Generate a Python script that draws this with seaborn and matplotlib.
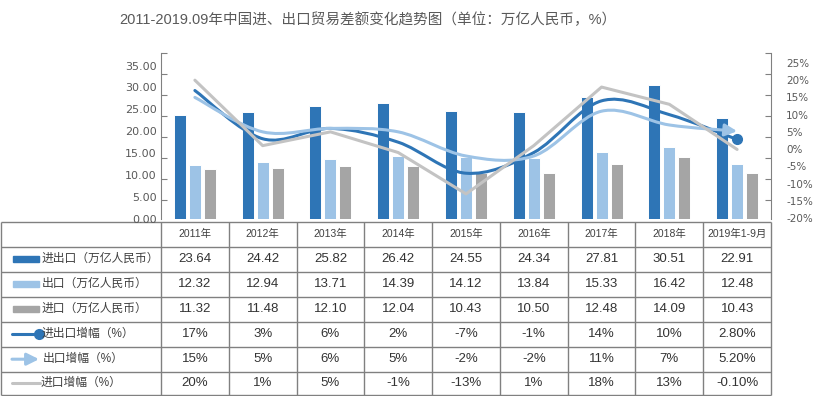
import numpy as np
import pandas as pd
import matplotlib
matplotlib.use('Agg')
import matplotlib.pyplot as plt
from matplotlib.path import Path
from matplotlib.patches import PathPatch, FancyArrowPatch, Rectangle
import seaborn as sns

# data
years = ['2011年', '2012年', '2013年', '2014年', '2015年', '2016年', '2017年', '2018年', '2019年1-9月']
total = [23.64, 24.42, 25.82, 26.42, 24.55, 24.34, 27.81, 30.51, 22.91]
exports = [12.32, 12.94, 13.71, 14.39, 14.12, 13.84, 15.33, 16.42, 12.48]
imports = [11.32, 11.48, 12.10, 12.04, 10.43, 10.50, 12.48, 14.09, 10.43]
total_growth = [17, 3, 6, 2, -7, -1, 14, 10, 2.8]
export_growth = [15, 5, 6, 5, -2, -2, 11, 7, 5.2]
import_growth = [20, 1, 5, -1, -13, 1, 18, 13, -0.1]
bar_names = ['进出口（万亿人民币）', '出口（万亿人民币）', '进口（万亿人民币）']
line_names = ['进出口增幅（%）', '出口增幅（%）', '进口增幅（%）']
left_ticks = [0, 5, 10, 15, 20, 25, 30, 35]
right_ticks = [-20, -15, -10, -5, 0, 5, 10, 15, 20, 25]

DARK = '#2E75B6'
LIGHT = '#9DC3E6'
GREY = '#A5A5A5'
LGREY = '#C3C3C3'
AXC = '#808080'
TXT = '#404040'

sns.set_theme(style='white')
plt.rcParams['font.family'] = ['Liberation Sans', 'Noto Sans CJK SC', 'DejaVu Sans']

W, H = 813, 396
fig = plt.figure(figsize=(W / 100, H / 100), dpi=100)

# chart area (pixel layout of the reference)
x0, x1, ytop, ybot = 161, 771, 53.3, 218.7
ax = fig.add_axes([x0 / W, 1 - ybot / H, (x1 - x0) / W, (ybot - ytop) / H])

df = pd.DataFrame({
    'year': years * 3,
    'value': total + exports + imports,
    'series': [n for n in bar_names for _ in years],
})
sns.barplot(data=df, x='year', y='value', hue='series', hue_order=bar_names,
            palette=[DARK, LIGHT, GREY], saturation=1, width=0.663, gap=0.2,
            edgecolor='white', linewidth=0.7, legend=False, ax=ax)
ax.set_xlim(-0.5, len(years) - 0.5)
ax.set_ylim(0, 37.8)
ax.set_xticks([])
ax.set_xlabel('')
ax.set_ylabel('')
ax.set_yticks(left_ticks)
ax.set_yticklabels(['%.2f' % v for v in left_ticks], family='DejaVu Sans')

# tick marks sit between labels in the reference
frac = np.array([1 - k * 0.127 for k in range(8)])
ax.set_yticks(frac * 37.8, minor=True)
ax.tick_params(axis='y', which='major', length=0, pad=3, labelsize=8, labelcolor='#595959')
ax.tick_params(axis='y', which='minor', direction='in', length=4, width=0.8, color=AXC, left=True)
for s in ['top', 'right', 'bottom']:
    ax.spines[s].set_visible(False)
ax.spines['left'].set_color(AXC)
ax.spines['left'].set_linewidth(0.8)

ax2 = ax.twinx()
ax2.set_ylim(-20.2, 27.8)
ax2.set_yticks(right_ticks)
ax2.set_yticklabels(['%d%%' % v for v in right_ticks], family='DejaVu Sans')
ax2.set_yticks(-20.2 + frac * 48, minor=True)
ax2.tick_params(axis='y', which='major', length=0, pad=11, labelsize=7.5, labelcolor='#595959')
ax2.tick_params(axis='y', which='minor', direction='in', length=4, width=0.8, color=AXC, right=True)
for s in ['top', 'left', 'bottom']:
    ax2.spines[s].set_visible(False)
ax2.spines['right'].set_color(AXC)
ax2.spines['right'].set_linewidth(0.8)

xs = np.arange(len(years))


def smooth_path(y):
    # Catmull-Rom style bezier through the data points (like Excel smoothed lines)
    pts = np.column_stack([xs, y]).astype(float)
    verts = [pts[0]]
    codes = [Path.MOVETO]
    n = len(pts)
    for i in range(n - 1):
        p0 = pts[max(i - 1, 0)]
        p1 = pts[i]
        p2 = pts[i + 1]
        p3 = pts[min(i + 2, n - 1)]
        verts += [p1 + (p2 - p0) / 6, p2 - (p3 - p1) / 6, p2]
        codes += [Path.CURVE4] * 3
    return Path(verts, codes)


ARROW = '-|>,head_length=0.8,head_width=0.4'

ax2.add_patch(PathPatch(smooth_path(total_growth), fill=False, edgecolor=DARK,
                        lw=2.2, capstyle='round', zorder=3))
ax2.plot(xs[-1], total_growth[-1], 'o', color=DARK, ms=7, zorder=4)
ax2.add_patch(FancyArrowPatch(path=smooth_path(export_growth), arrowstyle=ARROW,
                              mutation_scale=9, color=LIGHT, lw=2.2, zorder=3))
sns.lineplot(x=xs, y=import_growth, color=LGREY, lw=2.2, ax=ax2, zorder=3)
ax2.set_xlim(-0.5, len(years) - 0.5)
ax2.set_ylabel('')

fig.text(368 / W, 1 - 20 / H, '2011-2019.09年中国进、出口贸易差额变化趋势图（单位：万亿人民币，%）',
         ha='center', va='center', fontsize=10.5, color='#595959')

# data table below the chart
tax = fig.add_axes([0, 0, 1, 1], zorder=-1)
tax.set_xlim(0, W)
tax.set_ylim(H, 0)
tax.axis('off')
col_w = (x1 - x0) / len(years)
col_edges = [0.5] + [x0 + i * col_w for i in range(len(years) + 1)]
row_edges = [221.7 + 25 * k for k in range(7)] + [395.0]
tax.hlines(row_edges, 0.5, x1, color=AXC, lw=1)
tax.vlines(col_edges, row_edges[0], row_edges[-1], color=AXC, lw=1)

def row_mid(r):
    return (row_edges[r] + row_edges[r + 1]) / 2

for i, yr in enumerate(years):
    tax.text(x0 + (i + 0.5) * col_w, row_mid(0), yr, ha='center', va='center',
             fontsize=7.5, color=TXT)

rows = [
    ['%.2f' % v for v in total],
    ['%.2f' % v for v in exports],
    ['%.2f' % v for v in imports],
]
for series in [total_growth, export_growth, import_growth]:
    rows.append(['%d%%' % v if float(v).is_integer() else '%.2f%%' % v for v in series])

for r, vals in enumerate(rows):
    for i, v in enumerate(vals):
        tax.text(x0 + (i + 0.5) * col_w, row_mid(r + 1), v, ha='center', va='center',
                 fontsize=9.5, color='#333333')

# legend keys in the first column
for r, (name, c) in enumerate(zip(bar_names, [DARK, LIGHT, GREY])):
    ym = row_mid(r + 1)
    tax.add_patch(Rectangle((13, ym - 3.2), 26, 6.4, color=c))
    tax.text(42, ym, name, ha='left', va='center', fontsize=8.5, color=TXT)

ym = row_mid(4)
tax.plot([12, 39], [ym, ym], color=DARK, lw=2.2)
tax.plot([39], [ym], 'o', color=DARK, ms=7)
tax.text(42, ym, line_names[0], ha='left', va='center', fontsize=8.5, color=TXT)

ym = row_mid(5)
tax.annotate('', xy=(39, ym), xytext=(12, ym),
             arrowprops=dict(arrowstyle=ARROW, mutation_scale=9, color=LIGHT, lw=2.2,
                             shrinkA=0, shrinkB=0))
tax.text(43, ym, line_names[1], ha='left', va='center', fontsize=8.5, color=TXT)

ym = row_mid(6)
tax.plot([12, 40], [ym, ym], color=LGREY, lw=2.2)
tax.text(41, ym, line_names[2], ha='left', va='center', fontsize=8.5, color=TXT)

fig.savefig('out.png', dpi=100)
